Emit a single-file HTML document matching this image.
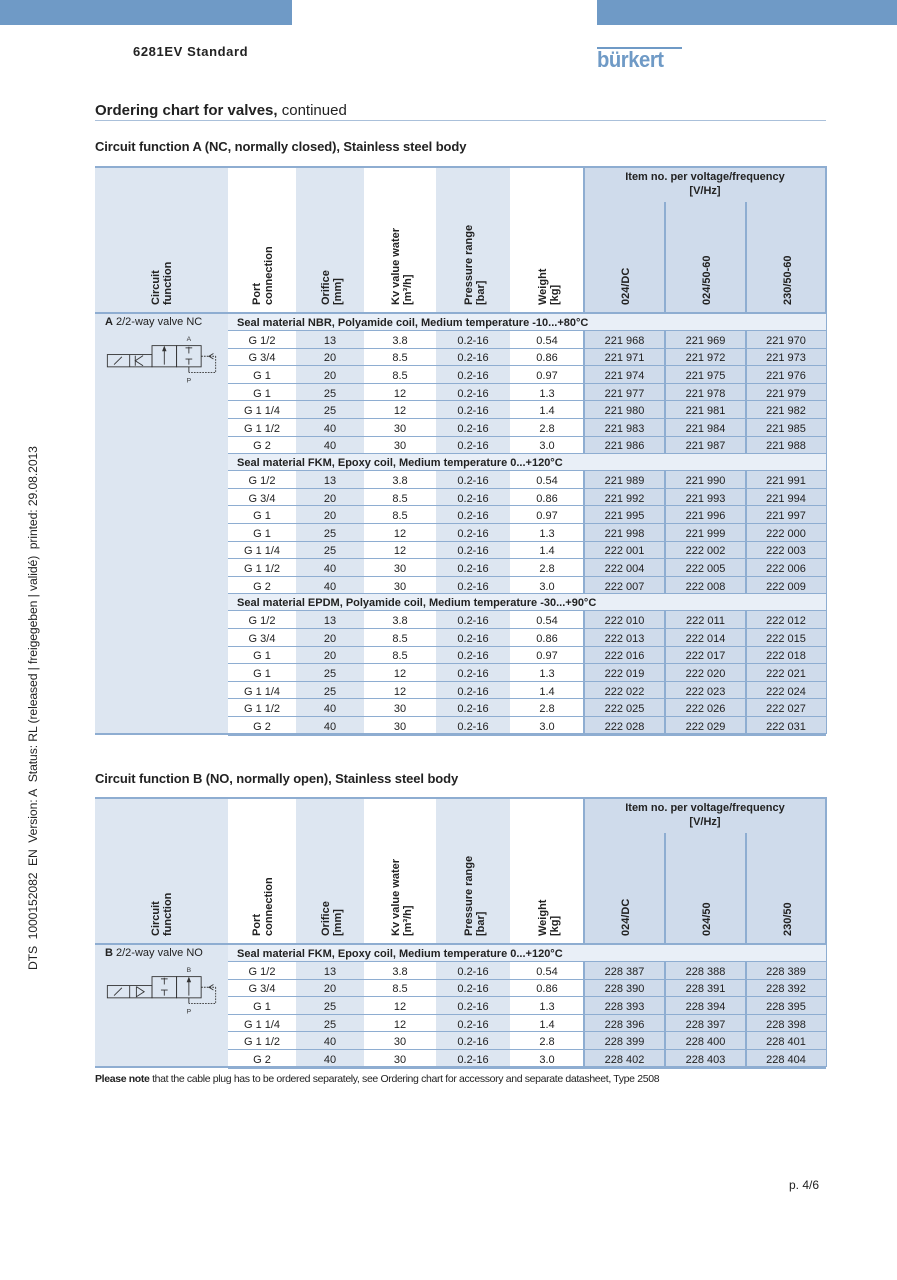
<!DOCTYPE html>
<html><head><meta charset="utf-8">
<style>
body{margin:0;width:897px;height:1280px;position:relative;background:#fff;font-family:"Liberation Sans",Arial,sans-serif;color:#222;overflow:hidden}
.abs{position:absolute}
.cell{position:absolute;display:flex;align-items:center;justify-content:center;font-size:11px;box-sizing:border-box;white-space:nowrap}
.vh{position:absolute;font-size:11px;font-weight:bold;line-height:12px;transform-origin:0 0;transform:rotate(-90deg);white-space:nowrap}
</style></head>
<body>
<div class="abs" style="left:0;top:0;width:292px;height:25px;background:#6f9ac6"></div>
<div class="abs" style="left:597px;top:0;width:300px;height:25px;background:#6f9ac6"></div>
<div class="abs" style="left:133px;top:44px;font-size:13px;font-weight:bold;letter-spacing:0.6px">6281EV Standard</div>
<div class="abs" style="left:597px;top:45px;width:85px;height:26px">
  <div style="position:absolute;left:0;top:2px;width:85px;height:2px;background:#6f9ac6"></div>
  <div style="position:absolute;left:0;top:4px;font-size:22px;font-weight:bold;color:#6f9ac6;letter-spacing:-0.5px;line-height:22px;transform:scaleX(0.92);transform-origin:0 0">bürkert</div>
</div>
<div class="abs" style="left:95px;top:102px;font-size:15px"><b style="font-weight:bold">Ordering chart for valves,</b> continued</div>
<div class="abs" style="left:95px;top:120px;width:731px;height:1px;background:#aac0da"></div>
<div class="abs" style="left:95px;top:139px;font-size:13px;font-weight:bold;letter-spacing:-0.1px">Circuit function A (NC, normally closed), Stainless steel body</div>
<div class="abs" style="left:95px;top:771px;font-size:13px;font-weight:bold;letter-spacing:-0.1px">Circuit function B (NO, normally open), Stainless steel body</div>
<div class="abs" style="left:26px;top:970px;font-size:12.2px;transform-origin:0 0;transform:rotate(-90deg);white-space:nowrap;letter-spacing:-0.1px">DTS&nbsp; 1000152082&nbsp; EN&nbsp; Version: A&nbsp; Status: RL (released | freigegeben | validé)&nbsp; printed: 29.08.2013</div>
<div class="abs" style="left:95px;top:1073px;font-size:10.5px;letter-spacing:-0.35px"><b>Please note</b> that the cable plug has to be ordered separately, see Ordering chart for accessory and separate datasheet, Type 2508</div>
<div class="abs" style="left:789px;top:1178px;font-size:12px">p. 4/6</div>
<div id="root"></div>
<script>
// Table A data
const portsA = ["G 1/2","G 3/4","G 1","G 1","G 1 1/4","G 1 1/2","G 2"];
const orificeA = ["13","20","20","25","25","40","40"];
const kvA = ["3.8","8.5","8.5","12","12","30","30"];
const pressureA = ["0.2-16","0.2-16","0.2-16","0.2-16","0.2-16","0.2-16","0.2-16"];
const weightA = ["0.54","0.86","0.97","1.3","1.4","2.8","3.0"];
const sectionTitlesA = ["Seal material NBR, Polyamide coil, Medium temperature -10...+80°C","Seal material FKM, Epoxy coil, Medium temperature 0...+120°C","Seal material EPDM, Polyamide coil, Medium temperature -30...+90°C"];
const itemsA1 = [["221 968","221 969","221 970"],["221 971","221 972","221 973"],["221 974","221 975","221 976"],["221 977","221 978","221 979"],["221 980","221 981","221 982"],["221 983","221 984","221 985"],["221 986","221 987","221 988"]];
const itemsA2 = [["221 989","221 990","221 991"],["221 992","221 993","221 994"],["221 995","221 996","221 997"],["221 998","221 999","222 000"],["222 001","222 002","222 003"],["222 004","222 005","222 006"],["222 007","222 008","222 009"]];
const itemsA3 = [["222 010","222 011","222 012"],["222 013","222 014","222 015"],["222 016","222 017","222 018"],["222 019","222 020","222 021"],["222 022","222 023","222 024"],["222 025","222 026","222 027"],["222 028","222 029","222 031"]];
const voltagesA = ["024/DC","024/50-60","230/50-60"];
// Table B data
const portsB = ["G 1/2","G 3/4","G 1","G 1 1/4","G 1 1/2","G 2"];
const orificeB = ["13","20","25","25","40","40"];
const kvB = ["3.8","8.5","12","12","30","30"];
const pressureB = ["0.2-16","0.2-16","0.2-16","0.2-16","0.2-16","0.2-16"];
const weightB = ["0.54","0.86","1.3","1.4","2.8","3.0"];
const sectionTitlesB = ["Seal material FKM, Epoxy coil, Medium temperature 0...+120°C"];
const itemsB1 = [["228 387","228 388","228 389"],["228 390","228 391","228 392"],["228 393","228 394","228 395"],["228 396","228 397","228 398"],["228 399","228 400","228 401"],["228 402","228 403","228 404"]];
const voltagesB = ["024/DC","024/50","230/50"];

const X=[95,228,296,364,436,510,584,665,746,826];
const LINE="#8eadd1", LB="#dde6f1", ITEM="#cfdbeb", SEC="#e9eff7";
const root=document.getElementById('root');
function box(l,t,w,h,bg,name){const d=document.createElement('div');d.className='abs';d.style.cssText=`left:${l}px;top:${t}px;width:${w}px;height:${h}px;background:${bg}`;


root.appendChild(d);return d;}
function text(l,t,w,h,s,name,extra){const d=document.createElement('div');d.className='cell';d.style.cssText=`left:${l}px;top:${t}px;width:${w}px;height:${h}px;${extra||''}`;d.textContent=s;


root.appendChild(d);return d;}
function vtext(x,bottom,lines,name){const d=document.createElement('div');d.className='vh';d.style.left=x+'px';d.style.top=bottom+'px';d.innerHTML=lines.join('<br>');


root.appendChild(d);}
function symbol(top,type){
  const s=type==='A'?
  `<svg width="134" height="67" viewBox="0 0 120 60" style="position:absolute;left:104px;top:${top}px"><g fill="none" stroke="#333" stroke-width="0.8">
   <rect x="3" y="22" width="40" height="11"/><line x1="23" y1="22" x2="23" y2="33"/><line x1="9" y1="31" x2="16" y2="24"/>
   <polyline points="35,23 28,27.5 35,32"/><line x1="28" y1="23" x2="28" y2="32"/>
   <rect x="43" y="14" width="22" height="19"/><rect x="65" y="14" width="22" height="19"/>
   <line x1="54" y1="31" x2="54" y2="17"/><line x1="76" y1="15" x2="76" y2="21"/><line x1="73" y1="16" x2="79" y2="16"/>
   <line x1="76" y1="31" x2="76" y2="26"/><line x1="73" y1="26" x2="79" y2="26"/><line x1="76" y1="33" x2="76" y2="38"/>
   <polyline points="87,23.5 100,23.5" stroke-dasharray="1.5,1"/><polyline points="100,23.5 100,38 76,38" stroke-dasharray="1.5,1"/>
   <polyline points="98,21 94,23.5 98,26"/></g>
   <polygon points="54,14 52,19 56,19" fill="#333"/>
   <text x="74" y="10" font-size="6" font-family="Liberation Sans" fill="#333">A</text><text x="74" y="47" font-size="6" font-family="Liberation Sans" fill="#333">P</text></svg>`
  :
  `<svg width="134" height="67" viewBox="0 0 120 60" style="position:absolute;left:104px;top:${top}px"><g fill="none" stroke="#333" stroke-width="0.8">
   <rect x="3" y="22" width="40" height="11"/><line x1="23" y1="22" x2="23" y2="33"/><line x1="9" y1="31" x2="16" y2="24"/>
   <polyline points="29,23 36,27.5 29,32 29,23"/>
   <rect x="43" y="14" width="22" height="19"/><rect x="65" y="14" width="22" height="19"/>
   <line x1="54" y1="15" x2="54" y2="21"/><line x1="51" y1="16" x2="57" y2="16"/><line x1="54" y1="31" x2="54" y2="26"/><line x1="51" y1="26" x2="57" y2="26"/>
   <line x1="76" y1="31" x2="76" y2="17"/><line x1="76" y1="33" x2="76" y2="38"/>
   <polyline points="87,23.5 100,23.5" stroke-dasharray="1.5,1"/><polyline points="100,23.5 100,38 76,38" stroke-dasharray="1.5,1"/>
   <polyline points="98,21 94,23.5 98,26"/></g>
   <polygon points="76,14 74,19 78,19" fill="#333"/>
   <text x="74" y="10" font-size="6" font-family="Liberation Sans" fill="#333">B</text><text x="74" y="47" font-size="6" font-family="Liberation Sans" fill="#333">P</text></svg>`;
  const w=document.createElement('div');w.innerHTML=s;const el=w.firstChild;
  
  
  root.appendChild(el);
}
function makeTable(top,ports,orif,kv,press,weight,titles,itemSets,volts,letter,label,id){
  const HH=147,SH=17,RH=17.6;
  const nRows=ports.length;
  const total=HH+titles.length*(SH+nRows*RH);
  box(X[0],top,X[1]-X[0],total,LB,id+'-circuit-column');
  const hbg=[null,'#fff',LB,'#fff',LB,'#fff'];
  for(let c=1;c<6;c++) box(X[c],top,X[c+1]-X[c],HH,hbg[c],id+'-header-col-'+c);
  box(X[6],top,X[9]-X[6],HH,ITEM,id+'-item-header');
  box(X[0],top,X[9]-X[0],2,LINE,id+'-top-rule');
  box(X[6]-1,top,2,HH,LINE,id+'-item-header-left');
  box(X[9]-1,top,2,total,LINE,id+'-right-rule');
  box(X[7]-1,top+36,2,HH-36,LINE,id+'-vdiv1');
  box(X[8]-1,top+36,2,HH-36,LINE,id+'-vdiv2');
  text(X[6],top+3,X[9]-X[6],16,'Item no. per voltage/frequency',id+'-item-header-title','font-weight:bold');
  text(X[6],top+17,X[9]-X[6],16,'[V/Hz]',id+'-item-header-unit','font-weight:bold');
  const bot=top+HH-8;
  vtext(150,bot,['Circuit','function'],id+'-h-circuit');
  vtext(251,bot,['Port','connection'],id+'-h-port');
  vtext(320,bot,['Orifice','[mm]'],id+'-h-orifice');
  vtext(390,bot,['Kv value water','[m³/h]'],id+'-h-kv');
  vtext(463,bot,['Pressure range','[bar]'],id+'-h-pressure');
  vtext(537,bot,['Weight','[kg]'],id+'-h-weight');
  vtext(620,bot,[volts[0]],id+'-h-v1');
  vtext(701,bot,[volts[1]],id+'-h-v2');
  vtext(782,bot,[volts[2]],id+'-h-v3');
  box(X[0],top+HH-1,X[9]-X[0],2,LINE,id+'-header-rule');
  const lab=document.createElement('div');lab.className='abs';lab.style.cssText=`left:105px;top:${top+HH+3}px;font-size:11px`;lab.innerHTML=`<b>${letter}</b> ${label}`;
  
  
  root.appendChild(lab);
  symbol(top+HH+17,letter);
  let y=top+HH+1;
  titles.forEach((t,si)=>{
    box(X[1],y,X[9]-X[1],SH,SEC,id+'-section-'+si);
    text(X[1]+9,y,500,SH,t,id+'-section-title-'+si,'justify-content:flex-start;font-weight:bold');
    y+=SH;
    box(X[1],y-1,X[9]-X[1],2,LINE,id+'-section-rule-'+si);
    const items=itemSets[si];
    for(let r=0;r<nRows;r++){
      const vals=[ports[r],orif[r],kv[r],press[r],weight[r]];
      const bgs=['#fff',LB,'#fff',LB,'#fff'];
      for(let c=0;c<5;c++){box(X[c+1],y,X[c+2]-X[c+1],RH,bgs[c],id+'-cellbg');text(X[c+1],y+1,X[c+2]-X[c+1],RH,vals[c],id+'-cell-'+si+'-'+r+'-'+c);}
      for(let k=0;k<3;k++){box(X[6+k],y,X[7+k]-X[6+k],RH,ITEM,id+'-itembg');text(X[6+k],y+1,X[7+k]-X[6+k],RH,items[r][k],id+'-item-'+si+'-'+r+'-'+k);}
      for(let k=0;k<3;k++) box(X[6+k]-1,y,2,RH,LINE,id+'-item-div');
      y+=RH;
      box(X[1],y-1,X[9]-X[1],(r===nRows-1)?2:1.5,LINE,id+'-row-rule');
    }
  });
  box(X[0],top+total-1,X[9]-X[0],2,LINE,id+'-bottom-rule');
}
makeTable(166,portsA,orificeA,kvA,pressureA,weightA,sectionTitlesA,[itemsA1,itemsA2,itemsA3],voltagesA,'A','2/2-way valve NC','table-a');
makeTable(797,portsB,orificeB,kvB,pressureB,weightB,sectionTitlesB,[itemsB1],voltagesB,'B','2/2-way valve NO','table-b');
</script>
</body></html>
